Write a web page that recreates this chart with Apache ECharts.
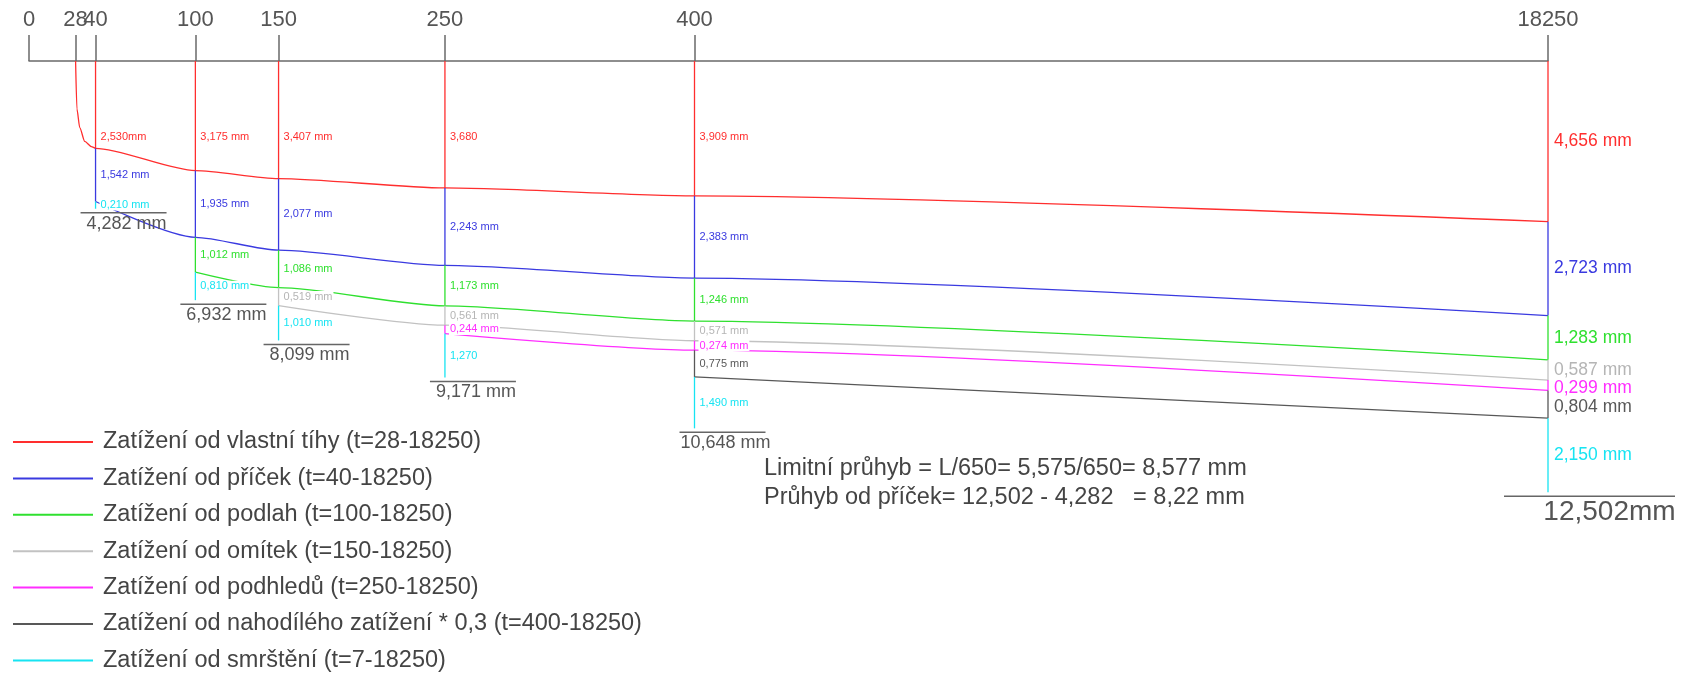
<!DOCTYPE html>
<html lang="cs">
<head>
    <meta charset="UTF-8">
    <title>Průhyb v čase</title>
    <script src="https://cdn.jsdelivr.net/npm/echarts@6/dist/echarts.min.js"></script>
    <style>
        html, body { margin: 0; padding: 0; background: #fff; }
        #graf { width: 1695px; height: 676px; }
    </style>
</head>
<body>
<div id="graf"></div>
<script>
    // časy (dny), ve kterých jsou svislé úsečky s průhyby
    var casy = [40, 100, 150, 250, 400, 18250];
    // popisky horní osy
    var casyOsa = [0, 28, 40, 100, 150, 250, 400, 18250];

    var nazvy = [
        'Zatížení od vlastní tíhy (t=28-18250)',
        'Zatížení od příček (t=40-18250)',
        'Zatížení od podlah (t=100-18250)',
        'Zatížení od omítek (t=150-18250)',
        'Zatížení od podhledů (t=250-18250)',
        'Zatížení od nahodílého zatížení * 0,3 (t=400-18250)',
        'Zatížení od smrštění (t=7-18250)'
    ];
    var barvy = ['#ff2e2e', '#3a3ae0', '#2fe02f', '#c2c2c2', '#ff2eff', '#585858', '#17e4f2'];

    // přírůstky průhybu [mm] v časech `casy`, null = zatížení ještě nepůsobí
    var vlastniTiha = [2.530, 3.175, 3.407, 3.680, 3.909, 4.656];
    var pricky      = [1.542, 1.935, 2.077, 2.243, 2.383, 2.723];
    var podlahy     = [null, 1.012, 1.086, 1.173, 1.246, 1.283];
    var omitky      = [null, null, 0.519, 0.561, 0.571, 0.587];
    var podhledy    = [null, null, null, 0.244, 0.274, 0.299];
    var nahodile    = [null, null, null, null, 0.775, 0.804];
    var smrsteni    = [0.210, 0.810, 1.010, 1.270, 1.490, 2.150];
    // celkový průhyb
    var celkem      = [4.282, 6.932, 8.099, 9.171, 10.648, 12.502];

    // náběh křivky vlastní tíhy mezi t=28 a t=40
    var nabehCas = [28, 28.8, 30.5, 33.5, 37.5];
    var nabehMm  = [0, 1.39, 1.93, 2.33, 2.48];

    // popisky, které v originálu nemají standardní tvar
    var zvlastniPopisky = { '0-0': '2,530mm', '0-3': '3,680', '6-3': '1,270' };

    var SANS = '"Liberation Sans", Arial, sans-serif';
    var PX_NA_MM = 34.5;

    // osa je lineární do 400 dnů, čas 18250 leží hned za zlomem
    var ZLOM = 913;
    function poz(t) { return t > 400 ? ZLOM : t; }

    function cislo(v) { return v.toFixed(3).replace('.', ','); }
    function velkyCas(j) { return casy[j] === 18250; }

    var vrstvy = [vlastniTiha, pricky, podlahy, omitky, podhledy, nahodile, smrsteni];

    // horní a dolní okraj každé vrstvy + výška popisku (popisky se nesmí překrývat)
    var od = vrstvy.map(function () { return []; });
    var po = vrstvy.map(function () { return []; });
    var popY = vrstvy.map(function () { return []; });
    casy.forEach(function (t, j) {
        var s = 0, posledni = -1;
        var mezera = (velkyCas(j) ? 18.5 : 12) / PX_NA_MM;
        vrstvy.forEach(function (v, i) {
            od[i][j] = s;
            if (v[j] != null) {
                s += v[j];
                var y = Math.max((od[i][j] + s) / 2, 2.2, posledni + mezera);
                popY[i][j] = y;
                posledni = y;
            }
            po[i][j] = s;
        });
    });

    var series = [];
    vrstvy.forEach(function (v, i) {
        var barva = barvy[i];
        // křivka (smrštění nemá vlastní křivku)
        if (i < 6) {
            var body = [];
            if (i === 0) {
                nabehCas.forEach(function (t, k) { body.push([t, nabehMm[k]]); });
            }
            casy.forEach(function (t, j) {
                if (v[j] != null) body.push([poz(t), po[i][j]]);
            });
            series.push({
                name: nazvy[i],
                type: 'line',
                data: body,
                showSymbol: false,
                smooth: 0.25,
                smoothMonotone: 'x',
                lineStyle: { color: barva, width: 1.3 },
                itemStyle: { color: barva },
                z: 2
            });
        }
        // svislé úsečky s popisky
        var usecky = [];
        casy.forEach(function (t, j) {
            if (v[j] != null) usecky.push([poz(t), od[i][j], po[i][j], j, popY[i][j]]);
        });
        series.push({
            name: nazvy[i],
            type: 'custom',
            data: usecky,
            itemStyle: { color: barva },
            z: 3,
            renderItem: function (params, api) {
                var x = api.value(0), j = api.value(3);
                var p1 = api.coord([x, api.value(1)]);
                var p2 = api.coord([x, api.value(2)]);
                var pp = api.coord([x, api.value(4)]);
                var velky = velkyCas(j);
                var text = zvlastniPopisky[i + '-' + j] || (cislo(v[j]) + ' mm');
                return {
                    type: 'group',
                    children: [{
                        type: 'line',
                        shape: { x1: p1[0], y1: p1[1], x2: p2[0], y2: p2[1] },
                        style: { stroke: barva, lineWidth: 1.3 }
                    }, {
                        type: 'text',
                        x: pp[0] + (velky ? 5 : 4),
                        y: pp[1],
                        style: {
                            text: text,
                            fill: i === 3 ? '#b5b5b5' : barva,
                            fontSize: velky ? 17.5 : 11,
                            fontFamily: SANS,
                            verticalAlign: 'middle',
                            backgroundColor: '#fff',
                            padding: [0, 1]
                        }
                    }]
                };
            }
        });
    });

    // celkové průhyby pod každou svislicí
    series.push({
        name: 'celkem',
        type: 'custom',
        data: casy.map(function (t, j) { return [poz(t), celkem[j], j]; }),
        z: 3,
        renderItem: function (params, api) {
            var j = api.value(2);
            var p = api.coord([api.value(0), api.value(1)]);
            var velky = velkyCas(j);
            var x1 = p[0] - (velky ? 44 : 15);
            var x2 = p[0] + (velky ? 127 : 71);
            var y = p[1] + 4;
            return {
                type: 'group',
                children: [{
                    type: 'line',
                    shape: { x1: x1, y1: y, x2: x2, y2: y },
                    style: { stroke: '#666', lineWidth: 1.5 }
                }, {
                    type: 'text',
                    x: (x1 + x2) / 2 + (velky ? 20 : 3),
                    y: y + 2,
                    style: {
                        text: velky ? cislo(celkem[j]) + 'mm' : cislo(celkem[j]) + ' mm',
                        fill: '#555',
                        fontSize: velky ? 28 : 18,
                        fontFamily: SANS,
                        align: 'center',
                        verticalAlign: 'top'
                    }
                }]
            };
        }
    });

    var graf = echarts.init(document.getElementById('graf'));
    graf.setOption({
        animation: false,
        backgroundColor: '#fff',
        grid: { left: 29, top: 61, width: 1519, height: 17 * PX_NA_MM },
        xAxis: {
            type: 'value',
            position: 'top',
            min: 0,
            max: ZLOM,
            splitLine: { show: false },
            axisLine: { show: true, lineStyle: { color: '#6a6a6a', width: 1.5 } },
            axisTick: {
                show: true,
                customValues: casyOsa.map(poz),
                length: 26,
                lineStyle: { color: '#6a6a6a', width: 1.5 }
            },
            axisLabel: {
                customValues: casyOsa.map(poz),
                formatter: function (val) { return val === ZLOM ? '18250' : String(val); },
                fontSize: 22,
                fontFamily: SANS,
                color: '#555',
                margin: 30
            }
        },
        yAxis: { type: 'value', inverse: true, min: 0, max: 17, show: false },
        legend: {
            data: nazvy,
            orient: 'vertical',
            left: 13,
            top: 429,
            padding: 0,
            icon: 'rect',
            itemWidth: 80,
            itemHeight: 2,
            itemGap: 10.4,
            textStyle: {
                fontSize: 23.5,
                lineHeight: 26,
                color: '#444',
                fontFamily: SANS,
                padding: [0, 0, 0, 5]
            }
        },
        graphic: [{
            type: 'text',
            left: 764,
            top: 454,
            style: {
                text: 'Limitní průhyb = L/650= 5,575/650= 8,577 mm\nPrůhyb od příček= 12,502 - 4,282   = 8,22 mm',
                fill: '#444',
                fontSize: 23.5,
                lineHeight: 29,
                fontFamily: SANS
            }
        }],
        series: series
    });
</script>
</body>
</html>
